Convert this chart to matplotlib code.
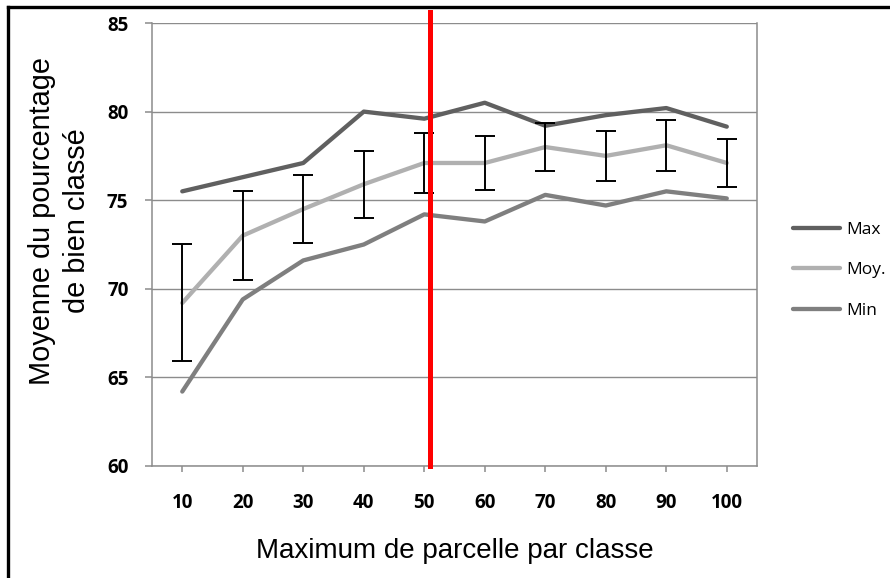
import matplotlib
matplotlib.use("Agg")
import matplotlib.pyplot as plt
from matplotlib.lines import Line2D

# Données
categories = ["10", "20", "30", "40", "50", "60", "70", "80", "90", "100"]
val_max = [75.5, 76.3, 77.1, 80.0, 79.6, 80.5, 79.2, 79.8, 80.2, 79.15]
val_moy = [69.2, 73.0, 74.5, 75.9, 77.1, 77.1, 78.0, 77.5, 78.1, 77.1]
val_min = [64.2, 69.4, 71.6, 72.5, 74.2, 73.8, 75.3, 74.7, 75.5, 75.1]
err_moy = [3.3, 2.5, 1.9, 1.9, 1.7, 1.5, 1.35, 1.4, 1.45, 1.35]
seuil = 4.1  # position de la ligne rouge (un peu après 50)

fig = plt.figure(figsize=(8.9, 5.78), dpi=100)
ax = fig.add_axes([0.1708, 0.1938, 0.6798, 0.7664])

x = list(range(len(categories)))
ax.plot(x, val_max, color="#606060", lw=3.1, solid_capstyle="round", label="Max", zorder=3)
ax.plot(x, val_moy, color="#B0B0B0", lw=3.1, solid_capstyle="round", label="Moy.", zorder=3)
ax.plot(x, val_min, color="#7F7F7F", lw=3.1, solid_capstyle="round", label="Min", zorder=3)
ax.errorbar(x, val_moy, yerr=err_moy, fmt="none", ecolor="black", elinewidth=1.4,
            capsize=7.5, capthick=1.4, zorder=4)

ax.axvline(seuil, ymin=0, ymax=1.025, color="#FF0000", lw=3.6, clip_on=False, zorder=5)

ax.set_xlim(-0.5, 9.5)
ax.set_ylim(60, 85)
ax.set_yticks([60, 65, 70, 75, 80, 85])
ax.set_xticks(x)
ax.set_xticklabels(categories)
ax.yaxis.grid(True, color="#8C8C8C", lw=1.0)
ax.set_axisbelow(True)

for s in ["left", "bottom", "right"]:
    ax.spines[s].set_color("#8C8C8C")
    ax.spines[s].set_linewidth(1.1)
ax.spines["top"].set_visible(False)
ax.tick_params(axis="both", color="#8C8C8C", width=1.1, direction="out")
ax.tick_params(axis="x", length=4.3, pad=15)
ax.tick_params(axis="y", length=5, pad=12)

for lab in ax.get_xticklabels() + ax.get_yticklabels():
    lab.set_fontfamily("Open Sans")
    lab.set_fontweight("bold")
    lab.set_fontsize(13.5)

ax.set_xlabel("Maximum de parcelle par classe", fontsize=20, family="Liberation Sans", labelpad=18)
ax.set_ylabel("Moyenne du pourcentage\nde bien classé", fontsize=20.8, family="Liberation Sans",
              linespacing=1.3)
ax.yaxis.set_label_coords(-0.101, 0.553)

leg = ax.legend(loc="center left", bbox_to_anchor=(1.033, 0.442), frameon=False,
                prop={"family": "Open Sans", "size": 12.5}, handlelength=2.75,
                handletextpad=0.35, labelspacing=1.4)

# cadre noir (seulement gauche et haut visibles)
fig.add_artist(Line2D([0.0095, 0.0095], [0.0, 0.988], transform=fig.transFigure, color="black", lw=2.4))
fig.add_artist(Line2D([0.0095, 1.0], [0.988, 0.988], transform=fig.transFigure, color="black", lw=2.4))

fig.savefig("out.png", dpi=100)
